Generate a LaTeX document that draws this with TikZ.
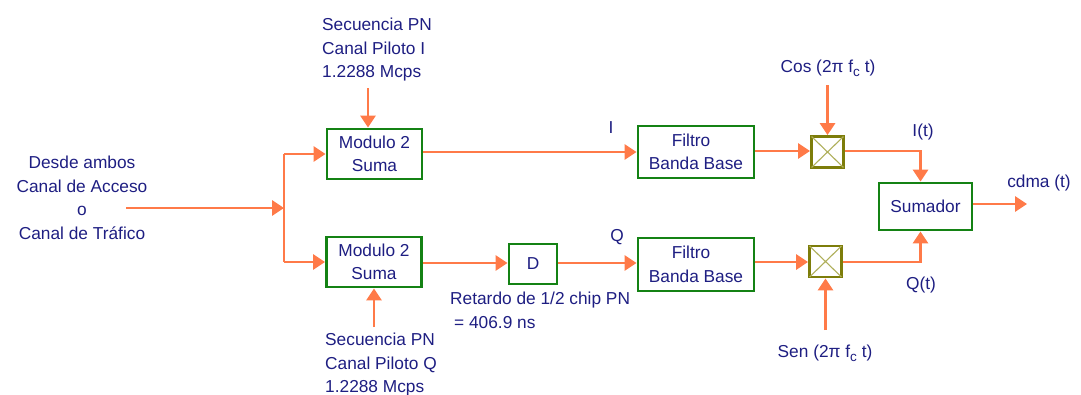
\documentclass[tikz,border=0pt]{standalone}
\usepackage{fontspec}
\setmainfont{Liberation Sans}
\usetikzlibrary{arrows.meta,calc}
\definecolor{wirec}{RGB}{255,122,72}
\definecolor{boxc}{RGB}{20,130,20}
\definecolor{txtc}{RGB}{30,30,130}
\definecolor{mixc}{RGB}{125,125,10}
\definecolor{crossc}{RGB}{175,175,90}
\newcommand{\fcsub}{f\raisebox{-0.45ex}{\fontsize{13.5}{13.5}\selectfont c}}
\begin{document}
\begin{tikzpicture}[x=1pt,y=-1pt,
  every node/.style={text=txtc,font=\fontsize{17.3}{23.5}\selectfont,inner sep=0pt},
  wire/.style={draw=wirec,line width=2.9pt},
  arr/.style={wire,-{Triangle[length=12pt,width=15pt]}},
  blk/.style={draw=boxc,line width=2.8pt,fill=white,align=center},
  mixer/.style={draw=mixc,line width=2.8pt,fill=white,minimum width=32pt,minimum height=31pt},
  lbl/.style={align=left,anchor=west}]
\useasboundingbox (0,0) rectangle (1081,394);
% texts
\node[align=center] (src) at (82,198) {Desde ambos\\Canal de Acceso\\o\\Canal de Tráfico};
\node[lbl] (pnI) at (322,50) {Secuencia PN\\Canal Piloto I\\1.2288 Mcps};
\node[lbl] (pnQ) at (325,365) {Secuencia PN\\Canal Piloto Q\\1.2288 Mcps};
\node[lbl] (ret) at (450,310.5) {Retardo de 1/2 chip PN\\\hspace{4pt}= 406.9 ns};
\node (cosl) at (828,68) {Cos (2π \fcsub{} t)};
\node (senl) at (825,353) {Sen (2π \fcsub{} t)};
\node (Il) at (611,128) {I};
\node (Ql) at (617,237) {Q};
\node (Itl) at (923,132) {I(t)};
\node (Qtl) at (921,285) {Q(t)};
\node (cdl) at (1039,183) {cdma (t)};
% blocks
\node[blk,minimum width=95pt,minimum height=50pt] (modI) at (374.5,154) {Modulo 2\\Suma};
\node[blk,minimum width=95pt,minimum height=50pt] (modQ) at (374,262) {Modulo 2\\Suma};
\node[blk,minimum width=48pt,minimum height=40pt] (D) at (533,264) {D};
\node[blk,minimum width=116pt,minimum height=52pt] (filI) at (696,152) {\hspace*{-10pt}Filtro\\Banda Base};
\node[blk,minimum width=116pt,minimum height=53pt] (filQ) at (696,264.5) {\hspace*{-10pt}Filtro\\Banda Base};
\node[mixer] (mixI) at (827.5,152) {};
\node[mixer] (mixQ) at (825.5,261.5) {};
\node[blk,minimum width=93pt,minimum height=47pt] (sum) at (925.5,206.5) {Sumador};
\foreach \m in {mixI,mixQ}{
  \draw[crossc,line width=1.1pt] ($(\m.north west)+(1.5,1.5)$) -- ($(\m.south east)+(-1.5,-1.5)$);
  \draw[crossc,line width=1.1pt] ($(\m.south west)+(1.5,-1.5)$) -- ($(\m.north east)+(-1.5,1.5)$);
}
% coordinates
\coordinate (inS) at (126,208);
\coordinate (jm) at (284,208);
\coordinate (jt) at (284,154);
\coordinate (jb) at (284,262);
\coordinate (pnIa) at (368,88);
\coordinate (pnQa) at (374,327);
\coordinate (cosa) at (827.5,85);
\coordinate (sena) at (825.5,330);
\coordinate (out) at (1027,204);
% connectors
\draw[arr] (inS) -- (jm);
\draw[wire] (jt) -- (jb);
\draw[arr] (jt) -- (modI.west);
\draw[arr] (jb) -- (modQ.west);
\draw[arr] (pnIa) -- (pnIa |- modI.north);
\draw[arr] (pnQa) -- (modQ.south);
\draw[arr] (modI.east |- 0,152) -- (filI.west |- 0,152);
\draw[arr] (modQ.east |- 0,263) -- (D.west |- 0,263);
\draw[arr] (D.east |- 0,263) -- (filQ.west |- 0,263);
\draw[arr] (filI.east |- 0,151) -- (mixI.west |- 0,151);
\draw[arr] (filQ.east |- 0,262) -- (mixQ.west |- 0,262);
\draw[arr] (cosa) -- (mixI.north);
\draw[arr] (sena) -- (mixQ.south);
\draw[arr] (mixI.east |- 0,151) -| ($(sum.north)+(-5,0)$);
\draw[arr] (mixQ.east |- 0,262) -| ($(sum.south)+(-5,0)$);
\draw[arr] (sum.east |- out) -- (out);
\end{tikzpicture}
\end{document}
